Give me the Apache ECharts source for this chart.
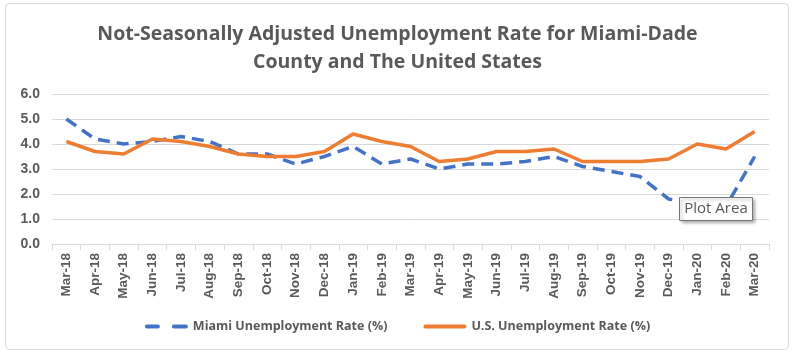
<!DOCTYPE html>
<html>
<head>
<meta charset="utf-8">
<script src="https://cdn.jsdelivr.net/npm/echarts@6/dist/echarts.min.js"></script>
<style>
html,body{margin:0;padding:0;background:#fff;}
#c{width:795px;height:356px;}
</style>
</head>
<body>
<div id="c"></div>
<script>
const categories = ['Mar-18','Apr-18','May-18','Jun-18','Jul-18','Aug-18','Sep-18','Oct-18','Nov-18','Dec-18','Jan-19','Feb-19','Mar-19','Apr-19','May-19','Jun-19','Jul-19','Aug-19','Sep-19','Oct-19','Nov-19','Dec-19','Jan-20','Feb-20','Mar-20'];
const miamiRate = [5.0,4.2,4.0,4.1,4.3,4.1,3.6,3.6,3.2,3.5,3.9,3.2,3.4,3.0,3.2,3.2,3.3,3.5,3.1,2.9,2.7,1.8,1.6,1.5,3.5];
const usRate = [4.1,3.7,3.6,4.2,4.1,3.9,3.6,3.5,3.5,3.7,4.4,4.1,3.9,3.3,3.4,3.7,3.7,3.8,3.3,3.3,3.3,3.4,4.0,3.8,4.5];
const seriesNames = ['Miami Unemployment Rate (%)','U.S. Unemployment Rate (%)'];
const titleText = 'Not-Seasonally Adjusted Unemployment Rate for Miami-Dade\nCounty and The United States';

const chart = echarts.init(document.getElementById('c'));
chart.setOption({
  animation:false,
  title:{
    text:titleText,
    left:'center',
    top:15,
    textStyle:{fontFamily:'Open Sans',fontWeight:'bold',fontSize:19.5,color:'#595959',lineHeight:28}
  },
  legend:{
    bottom:18,
    left:'center',
    itemWidth:43,
    itemHeight:14,
    itemGap:36,
    symbolKeepAspect:true,
    textStyle:{fontFamily:'Open Sans',fontWeight:'bold',fontSize:12.5,color:'#595959'},
    data:[
      {name:seriesNames[0],icon:'path://M2,0h11a2,2 0 0 1 0,4h-11a2,2 0 0 1 0,-4zM29,0h12a2,2 0 0 1 0,4h-12a2,2 0 0 1 0,-4z'},
      {name:seriesNames[1],icon:'path://M2,0h39a2,2 0 0 1 0,4h-39a2,2 0 0 1 0,-4z'}
    ]
  },
  grid:{left:52,right:26,top:94,bottom:112},
  xAxis:{
    type:'category',
    data:categories,
    boundaryGap:true,
    axisLine:{lineStyle:{color:'#d9d9d9',width:1}},
    axisTick:{show:true,length:6,lineStyle:{color:'#d9d9d9'}},
    axisLabel:{rotate:90,margin:9,fontFamily:'Liberation Sans',fontWeight:'bold',fontSize:13.5,color:'#595959',interval:0}
  },
  yAxis:{
    type:'value',
    min:0,max:6,interval:1,
    axisLine:{show:false},
    axisTick:{show:false},
    splitLine:{lineStyle:{color:'#d9d9d9',width:1}},
    axisLabel:{margin:12,fontFamily:'Liberation Sans',fontWeight:'bold',fontSize:14,color:'#595959',formatter:v=>v.toFixed(1)}
  },
  series:[
    {
      name:seriesNames[0],type:'line',data:miamiRate,
      symbol:'none',showSymbol:false,
      lineStyle:{color:'#4472C4',width:3.5,type:[12,7]},
      itemStyle:{color:'#4472C4'}
    },
    {
      name:seriesNames[1],type:'line',data:usRate,
      symbol:'none',showSymbol:false,
      lineStyle:{color:'#ED7D31',width:3.5},
      itemStyle:{color:'#ED7D31'}
    }
  ],
  graphic:[
    {type:'rect',shape:{x:5.5,y:3.5,width:783,height:346,r:4},style:{fill:'none',stroke:'#d9d9d9',lineWidth:1},z:-1,silent:true},
    {type:'rect',shape:{x:679.5,y:197.5,width:73,height:23},style:{fill:'#fff',stroke:'#767676',lineWidth:1,shadowBlur:3,shadowOffsetX:2,shadowOffsetY:2,shadowColor:'rgba(0,0,0,0.3)'},z:100},
    {type:'text',x:716,y:209,style:{text:'Plot Area',fontFamily:'Open Sans',fontSize:15,fill:'#575757',align:'center',verticalAlign:'middle'},z:101}
  ]
});
</script>
</body>
</html>
